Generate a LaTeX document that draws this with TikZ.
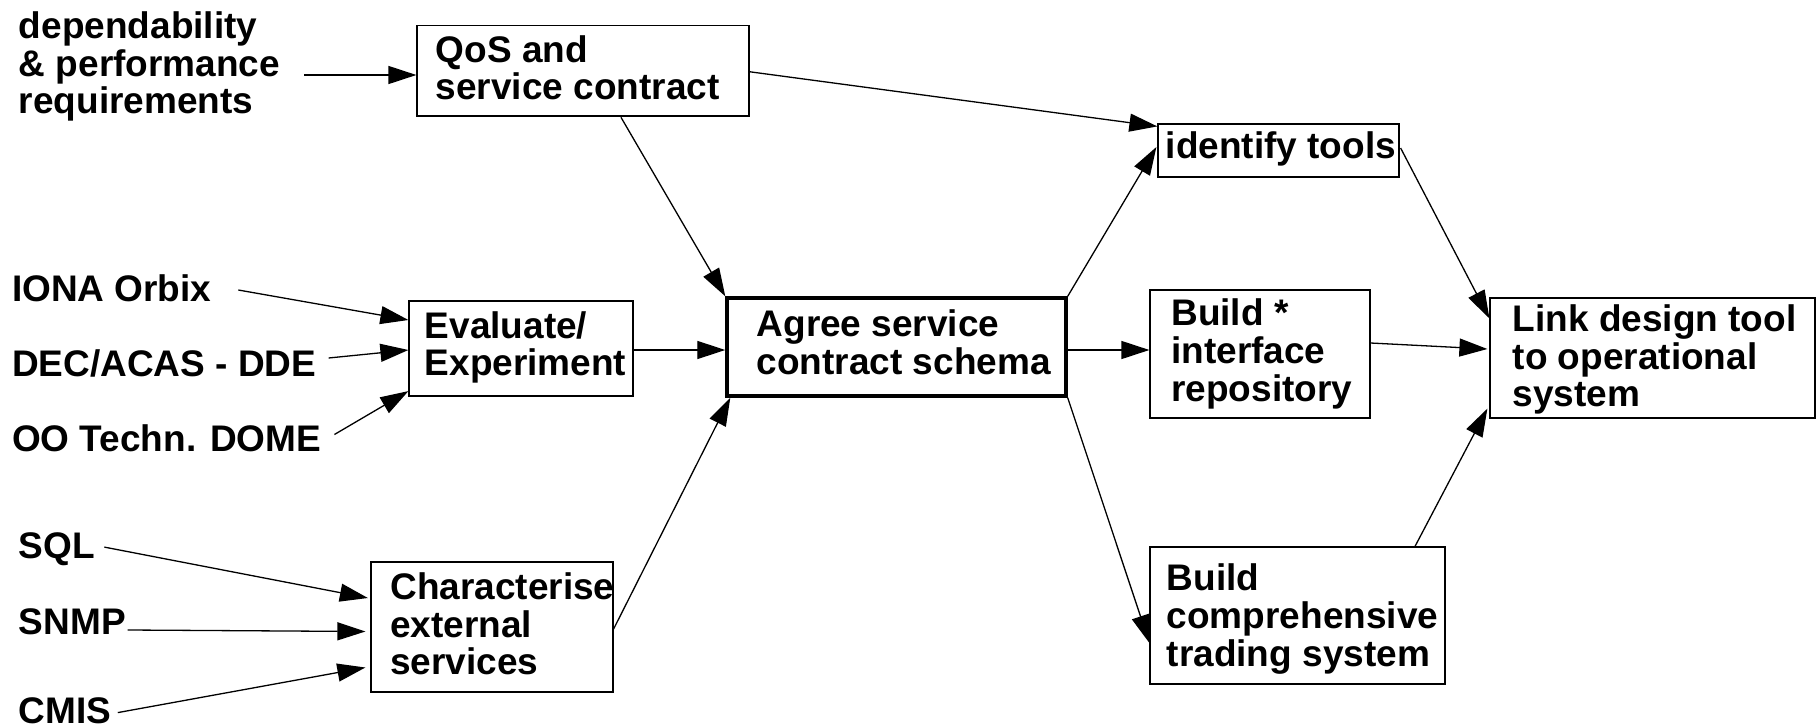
\documentclass[tikz,border=0pt]{standalone}
\usepackage{fontspec}
\setmainfont{Liberation Sans}
\usetikzlibrary{arrows.meta,calc}
\tikzset{
  box/.style={draw, line width=0.6pt, inner sep=0pt},
  thickbox/.style={box, line width=1.7pt},
  lbl/.style={font=\bfseries\fontsize{18.5}{18.8}\selectfont, align=left, inner sep=0pt, anchor=west},
  arr/.style={line width=0.65pt, -{Triangle[length=14pt,width=9pt]}}
}
\begin{document}
\begin{tikzpicture}[x=0.5pt,y=-0.5pt]
\fill[white] (0,0) rectangle (1817,728);
\useasboundingbox (0,0) rectangle (1817,728);

% boxes
\node[box, minimum width=166pt, minimum height=45.25pt] (qos) at (583,70.75) {};
\node[box, minimum width=120.5pt, minimum height=26.5pt] (ident) at (1278.5,150.5) {};
\node[box, minimum width=112pt, minimum height=47.5pt] (eval) at (521,348.5) {};
\node[thickbox, minimum width=169.5pt, minimum height=49pt] (agree) at (896.5,347) {};
\node[box, minimum width=110pt, minimum height=64pt] (build) at (1260,354) {};
\node[box, minimum width=162.5pt, minimum height=60pt] (link) at (1652.5,358) {};
\node[box, minimum width=121pt, minimum height=65pt] (charac) at (492,627) {};
\node[box, minimum width=147.5pt, minimum height=68.5pt] (comp) at (1297.5,615.5) {};

% box texts
\node[lbl] (qost) at ($(qos.west)+(19,-3)$) {QoS and\\service contract};
\node[lbl] (identt) at ($(ident.west)+(8,-1.5)$) {identify tools};
\node[lbl] (evalt) at ($(eval.west)+(16,-1)$) {Evaluate/\\Experiment};
\node[lbl] (agreet) at ($(agree.west)+(31,-4.5)$) {Agree service\\contract schema};
\node[lbl] (buildt) at ($(build.west)+(21.5,0)$) {Build *\\interface\\repository};
\node[lbl] (linkt) at ($(link.west)+(23,1.6)$) {Link design tool\\to operational\\system};
\node[lbl] (charact) at ($(charac.west)+(19.5,-3)$) {Characterise\\external\\services};
\node[lbl] (compt) at ($(comp.west)+(17,3.6)$) {Build\\comprehensive\\trading system};

% free labels
\node[lbl] (dep) at (18.5,66.6) {dependability\\\& performance\\requirements};
\node[lbl] (iona) at (11.6,288) {IONA Orbix};
\node[lbl] (dec) at (11.6,363.5) {DEC/ACAS - DDE};
\node[lbl] (oo) at (11.6,438) {OO Techn. DOME};
\node[lbl] (sql) at (18.5,549.2) {SQL};
\node[lbl] (snmp) at (18.5,622) {SNMP};
\node[lbl] (cmis) at (18.5,711) {CMIS};

% connectors
\draw[arr] ($(dep.east|-qos.west)+(24,4.25)$) -- ($(qos.west)+(0,4.25)$);
\draw[arr] ($(qos.south)+(38,0.75)$) -- (agree.north west);
\draw[arr] ($(qos.east)+(0,1)$) -- ($(ident.north west)+(0,3)$);
\draw[arr] ($(iona.east)+(26.5,2)$) -- ($(eval.west)+(0,-28.5)$);
\draw[arr] ($(dec.east)+(12,-5.5)$) -- ($(eval.west)+(0,1.5)$);
\draw[arr] ($(oo.east)+(13,-3.5)$) -- ($(eval.south west)+(0,-5.5)$);
\draw[arr] ($(eval.east)+(0,1.5)$) -- ($(agree.west)+(0,3)$);
\draw[arr] ($(charac.east)+(0,2)$) -- ($(agree.south west)+(5,0)$);
\draw[arr] ($(sql.east)+(9,-2.1)$) -- ($(charac.west)+(-2.5,-29)$);
\draw[arr] ($(snmp.east)+(1.5,8)$) -- ($(charac.west)+(-5,4.5)$);
\draw[arr] ($(cmis.east)+(6,1.6)$) -- ($(charac.west)+(-5,40.5)$);
\draw[arr] (agree.north east) -- ($(ident.west)+(-1,-3.5)$);
\draw[arr] ($(agree.east)+(0,3)$) -- ($(build.west)+(0,-4)$);
\draw[arr] (agree.south east) -- ($(comp.west)+(0,27.5)$);
\draw[arr] ($(ident.east)+(1,-2.5)$) -- ($(link.north west)+(0,21)$);
\draw[arr] ($(build.east)+(0,-11)$) -- ($(link.west)+(-2,-9)$);
\draw[arr] ($(comp.north)+(117.5,0)$) -- ($(link.south west)+(-2,-10)$);
\end{tikzpicture}
\end{document}
